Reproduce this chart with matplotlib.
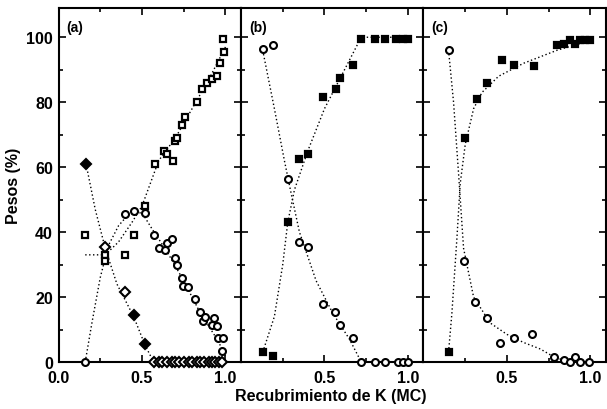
import matplotlib.pyplot as plt
from matplotlib.ticker import MultipleLocator, FixedLocator

plt.rcParams['font.family'] = ['Liberation Sans', 'DejaVu Sans']
plt.rcParams['font.weight'] = 'bold'

# ---- panel (a) ----
a_sq_x = [0.16, 0.28, 0.28, 0.40, 0.45, 0.52, 0.58, 0.63, 0.65, 0.685, 0.70, 0.71,
          0.74, 0.76, 0.83, 0.86, 0.89, 0.92, 0.95, 0.97, 0.99, 0.985]
a_sq_y = [39, 33, 31, 33, 39, 48, 61, 65, 64, 62, 68, 69,
          73, 75.5, 80, 84, 86, 87, 88, 92, 95.5, 99.5]
a_ci_x = [0.16, 0.40, 0.45, 0.52, 0.57, 0.60, 0.64, 0.65, 0.68, 0.70, 0.71, 0.74, 0.745,
          0.775, 0.82, 0.85, 0.865, 0.88, 0.92, 0.93, 0.95, 0.955, 0.985, 0.98]
a_ci_y = [0, 45.5, 46.5, 46, 39, 35, 34.5, 36.5, 38, 32, 30, 26, 23.5,
          23, 19.5, 15.5, 12.5, 14, 11.5, 13.5, 11, 7.5, 7.5, 3.5]
a_di_x = [0.165, 0.28, 0.40, 0.45, 0.52]
a_di_y = [61, 35.5, 21.5, 14.5, 5.5]
a_di_filled = [True, False, False, True, True]
a_zero_x = [0.57, 0.60, 0.62, 0.65, 0.68, 0.70, 0.72, 0.75, 0.78, 0.80, 0.83,
            0.85, 0.87, 0.90, 0.92, 0.94, 0.96, 0.98]
# guide curves (a)
a_gsq_x = [0.16, 0.28, 0.36, 0.44, 0.50, 0.55, 0.60, 0.70, 0.80, 0.90, 1.00]
a_gsq_y = [33, 33, 37, 43, 48, 55, 62, 69, 78, 87, 97]
a_gci_x = [0.16, 0.20, 0.25, 0.30, 0.36, 0.42, 0.50, 0.56, 0.65, 0.75, 0.85, 0.95, 1.00]
a_gci_y = [0, 12, 26, 36, 42, 45.5, 46, 41, 34, 25, 15, 7, 2]
a_gdi_x = [0.165, 0.22, 0.28, 0.35, 0.45, 0.52, 0.57, 1.00]
a_gdi_y = [61, 47, 35, 24, 14, 5, 0, 0]

# ---- panel (b) ----
b_sq_x = [0.13, 0.19, 0.28, 0.35, 0.40, 0.49, 0.57, 0.59, 0.67, 0.72, 0.80, 0.86, 0.93, 0.97, 1.00]
b_sq_y = [3, 2, 43, 62.5, 64, 81.5, 84, 87.5, 91.5, 99.5, 99.5, 99.5, 99.5, 99.5, 99.5]
b_ci_x = [0.13, 0.19, 0.28, 0.35, 0.40, 0.49, 0.565, 0.59, 0.67, 0.72, 0.80, 0.86, 0.94, 0.97, 1.00]
b_ci_y = [96.5, 97.5, 56.5, 37, 35.5, 18, 15.5, 11.5, 7.5, 0, 0, 0, 0, 0, 0]
b_gsq_x = [0.13, 0.20, 0.25, 0.28, 0.32, 0.40, 0.50, 0.60, 0.70, 0.72, 1.00]
b_gsq_y = [3, 14, 30, 43, 53, 65, 78, 88, 98, 100, 100]
b_gci_x = [0.13, 0.20, 0.26, 0.30, 0.35, 0.45, 0.55, 0.65, 0.72, 1.00]
b_gci_y = [96, 78, 62, 52, 40, 25, 15, 7, 0, 0]

# ---- panel (c) ----
c_sq_x = [0.15, 0.25, 0.32, 0.38, 0.47, 0.54, 0.66, 0.80, 0.84, 0.88, 0.91, 0.94, 0.97, 1.00]
c_sq_y = [3, 69, 81, 86, 93, 91.5, 91, 97.5, 98, 99, 98, 99, 99, 99]
c_ci_x = [0.15, 0.24, 0.31, 0.38, 0.46, 0.54, 0.65, 0.78, 0.84, 0.88, 0.91, 0.94, 0.99]
c_ci_y = [96, 31, 18.5, 13.5, 6, 7.5, 8.5, 1.5, 0.7, 0, 1.5, 0, 0]
c_gsq_x = [0.15, 0.17, 0.20, 0.22, 0.25, 0.30, 0.35, 0.45, 0.60, 0.80, 1.00]
c_gsq_y = [3, 15, 38, 55, 67, 78, 83, 88, 92, 96, 99]
c_gci_x = [0.15, 0.18, 0.21, 0.24, 0.30, 0.40, 0.50, 0.60, 0.70, 0.80, 1.00]
c_gci_y = [96, 80, 58, 35, 20, 12, 8.5, 6, 4, 1, 0]

panel_labels = ['(a)', '(b)', '(c)']

fig = plt.figure(figsize=(6.07, 4.10), dpi=100)
W = 182 / 607
axs = [fig.add_axes([(58.5 + i * 182.5) / 607, 0.1146, W, 0.8634]) for i in range(3)]

dot = (0, (1, 1.8))
mk = dict(ls='none', ms=5, mew=1.5, mec='black', clip_on=False, zorder=3)
mks = {**mk, 'ms': 4.5, 'mew': 1.6}
mkd = {**mk, 'ms': 4.8}

ax = axs[0]
ax.plot(a_gsq_x, a_gsq_y, color='black', ls=dot, lw=1)
ax.plot(a_gci_x, a_gci_y, color='black', ls=dot, lw=1)
ax.plot(a_gdi_x, a_gdi_y, color='black', ls=dot, lw=1)
ax.plot(a_sq_x, a_sq_y, marker='s', mfc='white', **mks)
ax.plot(a_ci_x, a_ci_y, marker='o', mfc='white', **mk)
for x, y, f in zip(a_di_x, a_di_y, a_di_filled):
    ax.plot([x], [y], marker='D', mfc='black' if f else 'white', **mkd)
ax.plot(a_zero_x, [0] * len(a_zero_x), marker='D', mfc='white', **mkd)

ax = axs[1]
ax.plot(b_gsq_x, b_gsq_y, color='black', ls=dot, lw=1)
ax.plot(b_gci_x, b_gci_y, color='black', ls=dot, lw=1)
ax.plot(b_sq_x, b_sq_y, marker='s', mfc='black', **mks)
ax.plot(b_ci_x, b_ci_y, marker='o', mfc='white', **mk)

ax = axs[2]
ax.plot(c_gsq_x, c_gsq_y, color='black', ls=dot, lw=1)
ax.plot(c_gci_x, c_gci_y, color='black', ls=dot, lw=1)
ax.plot(c_sq_x, c_sq_y, marker='s', mfc='black', **mks)
ax.plot(c_ci_x, c_ci_y, marker='o', mfc='white', **mk)

for i, ax in enumerate(axs):
    ax.set_xlim(0, 1.09)
    ax.set_ylim(0, 109)
    ax.xaxis.set_major_locator(FixedLocator([0.0, 0.5, 1.0] if i == 0 else [0.5, 1.0]))
    ax.xaxis.set_minor_locator(FixedLocator([0.25, 0.75]))
    ax.yaxis.set_major_locator(MultipleLocator(20))
    ax.yaxis.set_minor_locator(MultipleLocator(10))
    ax.tick_params(which='both', direction='in', top=True, right=True, width=1.2,
                   labelsize=11.5)
    ax.tick_params(which='major', length=5)
    ax.tick_params(which='minor', length=3)
    ax.tick_params(axis='y', pad=4)
    ax.tick_params(axis='x', pad=6)
    if i > 0:
        ax.tick_params(axis='y', labelleft=False)
    ax.xaxis.set_major_formatter(plt.FuncFormatter(lambda v, p: f'{v:.1f}'))
    for s in ax.spines.values():
        s.set_linewidth(1.5)
    ax.text(0.045, 0.965, panel_labels[i], transform=ax.transAxes, ha='left', va='top',
            fontsize=10, fontweight='bold')

axs[0].set_ylabel('Pesos (%)', fontsize=11.5, fontweight='bold', labelpad=4)
fig.text(0.545, 0.032, 'Recubrimiento de K (MC)', ha='center', va='center',
         fontsize=11.5, fontweight='bold')

fig.savefig('out.png', dpi=100)
